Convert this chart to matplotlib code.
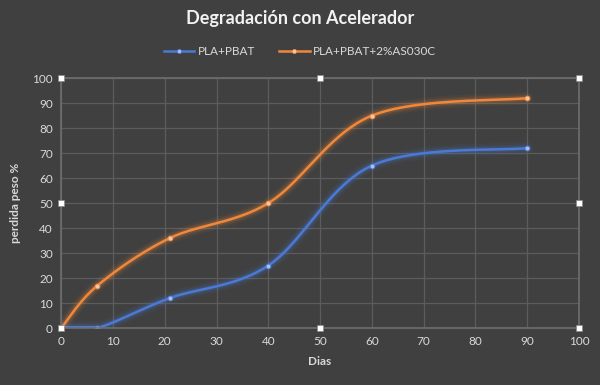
import numpy as np
import matplotlib.pyplot as plt
from matplotlib.lines import Line2D

dias = [0, 7, 21, 40, 60, 90]
pla_pbat = [0, 0, 12, 25, 65, 72]
pla_pbat_as = [0, 17, 36, 50, 85, 92]

BG = '#404040'
GRID = '#5c5c5c'
TXT = '#d9d9d9'
BLUE = '#4a7ad6'
ORANGE = '#f0883c'

plt.rcParams['font.family'] = ['Lato', 'DejaVu Sans']


def smooth(x, y, n=40):
    # bezier estilo Excel (catmull-rom)
    x = np.asarray(x, float)
    y = np.asarray(y, float)
    px = np.concatenate([[x[0]], x, [x[-1]]])
    py = np.concatenate([[y[0]], y, [y[-1]]])
    xs, ys = [], []
    t = np.linspace(0, 1, n)
    for i in range(1, len(px) - 2):
        p0 = np.array([px[i], py[i]])
        p3 = np.array([px[i + 1], py[i + 1]])
        p1 = p0 + (np.array([px[i + 1], py[i + 1]]) - np.array([px[i - 1], py[i - 1]])) / 6
        p2 = p3 - (np.array([px[i + 2], py[i + 2]]) - np.array([px[i], py[i]])) / 6
        b = ((1 - t) ** 3)[:, None] * p0 + (3 * (1 - t) ** 2 * t)[:, None] * p1 \
            + (3 * (1 - t) * t ** 2)[:, None] * p2 + (t ** 3)[:, None] * p3
        xs.extend(b[:, 0])
        ys.extend(b[:, 1])
    return np.array(xs), np.maximum(np.array(ys), 0.3)


fig = plt.figure(figsize=(6, 3.85), dpi=100, facecolor=BG)
ax = fig.add_axes([0.102, 0.148, 0.863, 0.649], facecolor=BG)

handles = []
for yy, col, mfc, lab in [(pla_pbat, BLUE, '#a9c0ee', 'PLA+PBAT'),
                          (pla_pbat_as, ORANGE, '#f5c9a8', 'PLA+PBAT+2%AS030C')]:
    sx, sy = smooth(dias, yy)
    for lw, a in [(9, 0.06), (6, 0.1), (4, 0.15)]:
        ax.plot(sx, sy, color=col, lw=lw, alpha=a, solid_capstyle='round')
    ax.plot(sx, sy, color=col, lw=1.8)
    ax.plot(dias, yy, 'o', color=col, ms=3.5, mfc=mfc, mec=col, mew=0.6)
    handles.append(Line2D([], [], color=col, lw=1.8, marker='o', ms=3, mfc=mfc, mec=col,
                          mew=0.5, label=lab))

ax.set_xlim(0, 100)
ax.set_ylim(0, 100)
ax.set_xticks(np.arange(0, 101, 10))
ax.set_yticks(np.arange(0, 101, 10))
ax.grid(True, color=GRID, lw=0.9)
ax.set_axisbelow(True)
for s in ax.spines.values():
    s.set_color('#6e6e6e')
    s.set_linewidth(1.2)
ax.tick_params(colors=TXT, labelsize=8.5, length=0, pad=6)

# tiradores de seleccion
hx = [0, 50, 100, 0, 100, 0, 50, 100]
hy = [0, 0, 0, 50, 50, 100, 100, 100]
ax.plot(hx, hy, 's', color='white', ms=5, mec='#888888', mew=0.5, clip_on=False, zorder=5)

ax.set_xlabel('Dias', color=TXT, fontsize=8.5, fontweight='bold', labelpad=6)
ax.set_ylabel('perdida peso %', color=TXT, fontsize=8.5, fontweight='bold', labelpad=8)

fig.text(0.5, 0.953, 'Degradación con Acelerador', ha='center', va='center',
         color='#f2f2f2', fontsize=13, fontweight='bold')

leg = fig.legend(handles=handles, loc='center', bbox_to_anchor=(0.5, 0.865),
                 ncol=2, frameon=False, fontsize=8.5, handlelength=2.6, columnspacing=2,
                 handletextpad=0.3)
for t in leg.get_texts():
    t.set_color(TXT)

fig.savefig('out.png', dpi=100, facecolor=BG)
